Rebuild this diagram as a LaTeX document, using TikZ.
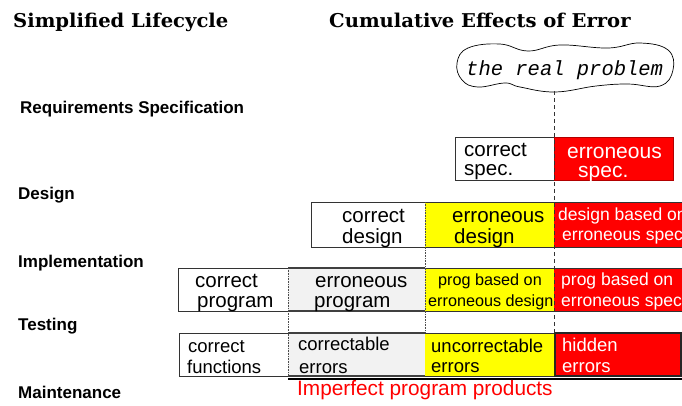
\documentclass[tikz,border=0pt]{standalone}
\usepackage{fontspec}
\usepackage{graphicx}
\newfontfamily\sans{Liberation Sans}
\newfontfamily\mono{Liberation Mono}
\newfontfamily\serifbd{DejaVu Serif}
\definecolor{errred}{HTML}{FF0000}
\definecolor{erryel}{HTML}{FFFF00}
\definecolor{errgray}{HTML}{F2F2F2}
\newcommand{\titletext}[1]{\scalebox{1.03}[1]{\serifbd\bfseries\fontsize{19}{19}\selectfont #1}}
\begin{document}
\begin{tikzpicture}[x=1pt,y=-1pt,
  cell/.style={draw=black!80, line width=0.8pt, anchor=north west, inner sep=0pt, outer sep=0pt},
  title/.style={anchor=base west, inner sep=0pt},
  phase/.style={anchor=base west, inner sep=0pt, font=\sans\bfseries\fontsize{17}{17}\selectfont},
  big/.style={anchor=base west, inner sep=0pt, font=\sans\fontsize{20.5}{20}\selectfont},
  mid/.style={anchor=base west, inner sep=0pt, font=\sans\fontsize{18.5}{18}\selectfont},
  small/.style={anchor=base west, inner sep=0pt, font=\sans\fontsize{16.2}{16}\selectfont},
  redtxt/.style={anchor=base west, inner sep=0pt, text=white, font=\sans\fontsize{17.5}{17}\selectfont},
  dottedline/.style={densely dotted, line width=0.6pt, black!70},
  dashedline/.style={dash pattern=on 4pt off 3pt, line width=0.7pt, black!80}
]
\useasboundingbox (0,0) rectangle (682,405);

% titles
\node[title] (t1) at (13,27) {\titletext{Simplified Lifecycle}};
\node[title] (t2) at (329,27) {\titletext{Cumulative Effects of Error}};

% phase labels
\node[phase] (p1) at (20,113) {Requirements Specification};
\node[phase] (p2) at (18,199) {Design};
\node[phase] (p3) at (18,267) {Implementation};
\node[phase] (p4) at (18,330) {Testing};
\node[phase] (p5) at (18,398) {Maintenance};

% cloud
\draw[line width=0.7pt] plot[smooth cycle, tension=0.7] coordinates {
  (457,63) (468,48) (500,44) (528,51) (560,45) (608,48) (640,43) (668,50)
  (673,70) (660,86) (628,84) (596,86) (555,92) (520,87) (505,83) (478,87) (462,80)};
\node[inner sep=0pt, anchor=base west, font=\mono\itshape\fontsize{20.5}{20}\selectfont] (cloud) at (466,75) {the real problem};
\coordinate (cloudbot) at (554,91);

% row 1
\node[cell, fill=white, minimum width=99pt, minimum height=43pt] (cs) at (455,137) {};
\node[cell, fill=errred, draw=errred!70!black, minimum width=119pt, minimum height=43pt] (es) at (554,137) {};
\node[big] (cs1) at (464,156) {correct};
\node[big] (cs2) at (464,175) {spec.};
\node[big, text=white, font=\sans\fontsize{21}{20}\selectfont] (es1) at (567,158) {erroneous};
\node[big, text=white, font=\sans\fontsize{21}{20}\selectfont] (es2) at (578,177.5) {spec.};

% row 2
\node[cell, fill=white, minimum width=114pt, minimum height=45pt] (cd) at (311,202) {};
\node[cell, fill=erryel, draw=none, minimum width=129pt, minimum height=45pt] (ed) at (425,202) {};
\node[cell, fill=errred, draw=none, minimum width=130pt, minimum height=45pt] (rd) at (554,202) {};
\draw[line width=0.8pt, black!80] (ed.north west) -- (rd.north east) (ed.south west) -- (rd.south east);
\node[big] (cd1) at (342,222) {correct};
\node[big] (cd2) at (342,243) {design};
\node[big] (ed1) at (452,222) {erroneous};
\node[big] (ed2) at (454,243) {design};
\node[redtxt] (rd1) at (558,220) {design based on};
\node[redtxt] (rd2) at (562,240) {erroneous spec};

% row 3
\node[cell, fill=white, minimum width=110pt, minimum height=43pt] (cp) at (178,268) {};
\node[cell, fill=errgray, draw=none, minimum width=137pt, minimum height=43pt] (ep) at (288,268) {};
\node[cell, fill=erryel, draw=none, minimum width=129pt, minimum height=43pt] (yp) at (425,268) {};
\node[cell, fill=errred, draw=none, minimum width=130pt, minimum height=43pt] (rp) at (554,268) {};
\draw[line width=0.8pt, black!80] (yp.north west) -- (rp.north east) (yp.south west) -- (rp.south east);
\draw[line width=1.6pt, black!75] (ep.north west) -- (ep.north east) (ep.south west) -- (ep.south east);
\node[big] (cp1) at (195,287) {correct};
\node[big] (cp2) at (197,307) {program};
\node[big] (ep1) at (315,287) {erroneous};
\node[big] (ep2) at (314,307) {program};
\node[small] (yp1) at (438,285) {prog based on};
\node[small] (yp2) at (428,306) {erroneous design};
\node[redtxt] (rp1) at (561,285) {prog based on};
\node[redtxt] (rp2) at (561,306) {erroneous spec};

% row 4
\node[cell, fill=white, minimum width=109pt, minimum height=43pt] (cf) at (179,333) {};
\node[cell, fill=errgray, draw=none, minimum width=137pt, minimum height=43pt] (ce) at (288,333) {};
\node[cell, fill=erryel, draw=none, minimum width=129pt, minimum height=43pt] (ue) at (425,333) {};
\node[cell, fill=errred, draw=black!85, line width=1.3pt, minimum width=126pt, minimum height=43pt] (he) at (555,333) {};
\draw[line width=0.8pt, black!80] (ue.north west) -- (ue.north east) (ue.south west) -- (ue.south east);
\draw[line width=1.6pt, black!75] (ce.north west) -- (ce.north east) (ce.south west) -- (ce.south east);
\draw[dash pattern=on 3pt off 2pt, line width=0.8pt, black!60!erryel!50!black] (ue.north east) -- (ue.south east);
\node[mid] (cf1) at (188,352) {correct};
\node[mid] (cf2) at (187,373) {functions};
\node[mid] (ce1) at (298,350) {correctable};
\node[mid] (ce2) at (299,373) {errors};
\node[mid] (ue1) at (431,352) {uncorrectable};
\node[mid] (ue2) at (431,372) {errors};
\node[mid, text=white] (he1) at (562,351) {hidden};
\node[mid, text=white] (he2) at (562,372) {errors};

% underline and caption
\coordinate (ulend) at (682,379);
\draw[line width=1.3pt] (ce.south west |- ulend) -- (ulend);
\node[anchor=base west, inner sep=0pt, text=errred, font=\sans\fontsize{20.8}{20}\selectfont] (imp) at (297,395) {Imperfect program products};

% guide lines
\draw[dashedline] (cloudbot) -- (es.north west |- he.north west);
\draw[dottedline] (ed.north west) -- (ue.north west);
\draw[dottedline] (ep.north west) -- (ce.south west);
\end{tikzpicture}
\end{document}
